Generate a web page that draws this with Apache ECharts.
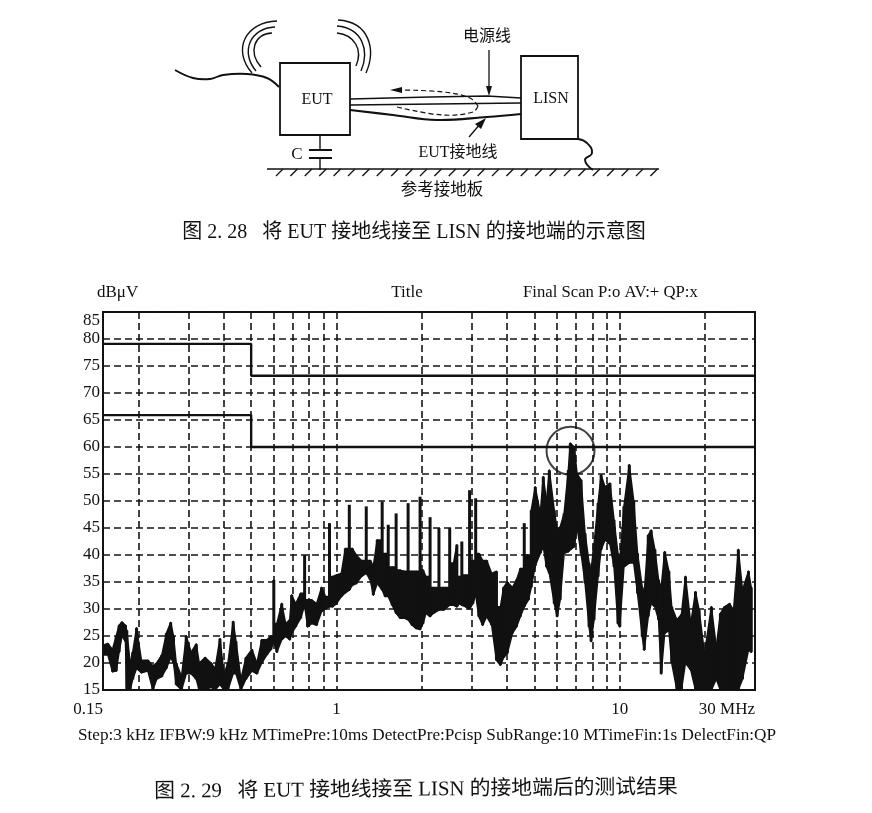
<!DOCTYPE html>
<html><head><meta charset="utf-8">
<style>html,body{margin:0;padding:0;background:#fff}#c{width:872px;height:813px}</style>
<script src="https://cdn.jsdelivr.net/npm/echarts@6/dist/echarts.min.js"></script>
</head><body><div id="c"></div>
<script>
// Values
const yMin = 15, yMax = 85, yStep = 5;
const xEnds = [0.15, 30];
const xLabelValues = [0.15, 1, 10, 30];
const xGridValues = [0.15,0.2,0.3,0.4,0.5,0.6,0.7,0.8,0.9,1,2,3,4,5,6,7,8,9,10,20,30];
const limitQP = [[0.15,79.1],[0.5,79.1],[0.5,73.2],[30,73.2]];
const limitAV = [[0.15,65.9],[0.5,65.9],[0.5,60],[30,60]];
const circled = [[6.7,59.3]];
const freqMHz = [.150,.156,.162,.167,.171,.175,.180,.182,.187,.191,.197,.205,.216,.225,.232,.242,.251,.260,.266,.272,.284,.295,.307,.320,.328,.344,.361,.373,.388,.401,.414,.432,.442,.460,.479,.503,.524,.545,.568,.587,.601,.616,.641,.662,.684,.695,.718,.748,.772,.791,.817,.851,.886,.915,.945,.968,1.0,1.04,1.075,1.11,1.138,1.175,1.224,1.274,1.316,1.349,1.393,1.45,1.486,1.523,1.573,1.624,1.678,1.733,1.79,1.849,1.91,1.973,2.02,2.07,2.14,2.2,2.3,2.39,2.51,2.59,2.66,2.72,2.77,2.86,2.95,3.03,3.1,3.18,3.28,3.39,3.53,3.67,3.79,3.89,4.01,4.18,4.32,4.46,4.6,4.76,4.87,5.03,5.24,5.37,5.51,5.64,5.87,6.01,6.16,6.36,6.58,6.69,6.9,7.07,7.3,7.54,7.79,7.92,8.11,8.38,8.59,8.87,9.23,9.54,9.85,10.0,10.34,10.8,11.2,11.55,12.0,12.2,12.6,12.9,13.3,13.7,14.0,14.4,14.9,15.25,15.9,16.5,17.05,17.8,18.5,19.05,19.9,21.05,21.9,22.65,23.4,24.4,25.2,26.2,27.1,28.45,29.1];
const upperDB = [23.3,23.6,22.5,25,27,27.6,27,26,20,22,26.5,20.5,20.5,19.5,20,21.5,25.5,27.5,25,20,17.5,25,22,23.5,20,21,20,19,24.5,18,20,27.7,24,17,21,22.5,20,24.3,24.3,25,35.4,27.3,31,27.3,28,32.6,31,32.9,40,31.7,31.7,31,34,32.3,45.9,36,36.3,36.6,41.2,49.3,41.2,40,39,49,39,38,42.8,49.9,40.3,45.6,37.8,47.7,37.2,37,49.6,37,37,50.8,37.2,36,47,34,45,34,45,38.5,41.9,36,42.5,36.3,52,39,50.5,40.3,39,39,36.6,37,30.4,34,35,34,35.4,37.5,45.9,40,48.3,52.6,47.7,54.5,50,55.7,48.3,44.6,45.2,47.7,55.7,60.7,60,55,53.9,44,38.5,37.2,42,49.6,54.8,52.6,53.3,46.5,40.3,39,49,56.7,50,40.3,34,32.9,43.7,44.6,41,35.4,34,40.6,37,30.4,28,29,36,27.3,33.2,29.8,21.8,30.4,23,29.2,30.4,31,29.8,41,33.5,37,34];
const lowerDB = [21.5,21.5,18.4,18.5,22,25,24,15,15,17,19,18.2,18.5,15,17,17.5,19,21,20,16,15,18,18,17,15,15,15.5,15,16,15,15,18,18,15,17,18.5,18,20,21.5,22.5,24,22,24.3,24.9,24.3,25.5,26.7,28.3,30.7,26.7,27.3,27,29.5,30,30.4,30.4,31,32.3,33,33.5,34.4,34.7,36,36.6,35.4,32.6,34.7,33.5,32.3,32.3,30.7,29.2,28.3,28.3,28,27,26.4,26.2,27.3,29.2,28.6,29.2,29.8,29.8,30.7,30.7,30.4,31,30.7,30.4,30,31,32.6,28.6,27,28.6,27,20.5,19.6,21,21.8,25.5,26.7,28.6,30.4,31.7,34,38,40.3,41.5,37.8,36.6,31,28.6,31.7,40.3,40.6,41,41.5,45,40.3,34.8,26.7,24,28,36,41,42.8,42,37.8,27.3,26.7,37.8,38.5,38.5,32.9,24.9,22.4,28.6,31,30.4,28,18,25.5,26,20,15,15,20,18.7,15,15,15,15,17,15,15,15,15,15,17,22.4,22];

const serif = '"Liberation Serif","Noto Sans CJK SC",serif';
const ink = '#111';
const T = (x,y,text,size,o={}) => ({type:'text',x,y,rotation:o.rot||0,silent:true,z:20,
  style:{text,fill:ink,font:(o.w||'normal')+' '+size+'px '+serif,textAlign:o.a||'center',textVerticalAlign:'middle'}});
const L = (pts,w=1.3,o={}) => ({type:'polyline',silent:true,z:20,shape:{points:pts,smooth:o.smooth||0},
  style:{stroke:ink,lineWidth:w,fill:null,lineDash:o.dash||null}});
const B = (a,c1,c2,b,w=1.4) => ({type:'bezierCurve',silent:true,z:20,
  shape:{x1:a[0],y1:a[1],cpx1:c1[0],cpy1:c1[1],cpx2:c2[0],cpy2:c2[1],x2:b[0],y2:b[1]},style:{stroke:ink,lineWidth:w,fill:null}});
const P = (pts) => ({type:'polygon',silent:true,z:20,shape:{points:pts},style:{fill:ink}});

const hatch = [];
for (let i=0;i<27;i++){ const x=276+i*14.4; hatch.push(L([[x,176],[x+7,169]],1.3)); }

const diagram = [
  {type:'rect',silent:true,z:20,shape:{x:280,y:63,width:70,height:72},style:{fill:'#fff',stroke:ink,lineWidth:1.8}},
  {type:'rect',silent:true,z:20,shape:{x:521,y:56,width:57,height:83},style:{fill:'#fff',stroke:ink,lineWidth:1.8}},
  L([[175,70],[193,78],[210,79],[223,75],[247,74],[267,78],[279,87]],1.9,{smooth:0.4}),
  B([277,21],[245,22],[232,50],[252,73]),B([275,27],[250,28],[240,52],[256,71]),B([272,33],[254,34],[248,52],[261,67]),
  B([338,20],[370,22],[376,50],[366,73]),B([337,26],[362,28],[370,50],[361,71]),B([337,33],[355,35],[363,50],[356,66]),
  L([[350,99],[430,97],[487,96],[521,98]],1.4),
  L([[350,105],[521,103]],1.4),
  L([[350,110],[393,115],[437,120],[487,117],[521,114]],2.1,{smooth:0.4}),
  L([[478,106],[470,98],[443,92],[397,90]],1.2,{dash:[5,3],smooth:0.4}),
  P([[390,90],[402,87],[402,93]]),
  L([[478,106],[473,112],[443,115],[397,107]],1.2,{dash:[5,3],smooth:0.4}),
  L([[489,50],[489,90]],1.3),P([[489,96],[486,86],[492,86]]),
  L([[469,137],[481,123]],1.3),P([[486,118],[475,124],[481,129]]),
  L([[320,135],[320,150]],1.4),L([[309,150],[332,150]],2),L([[309,158],[332,158]],2),L([[320,158],[320,170]],1.4),
  L([[267,169],[659,169]],1.5),
  L([[578,139],[587,143],[592,153],[585,160],[593,170]],1.9,{smooth:0.5}),
  ...hatch,
  T(317,100,'EUT',16),T(551,99,'LISN',16),T(487,37,'电源线',16),T(297,155,'C',17),
  T(458,153,'EUT接地线',16),T(442,191,'参考接地板',16.5),
  T(414,233,'图 2. 28   将 EUT 接地线接至 LISN 的接地端的示意图',20),
  T(97,293,'dBμV',17,{a:'left'}),T(407,293,'Title',17),T(523,293,'Final Scan P:o AV:+ QP:x',16.7,{a:'left'}),
  T(427,735,'Step:3 kHz IFBW:9 kHz MTimePre:10ms DetectPre:Pcisp SubRange:10 MTimeFin:1s DelectFin:QP',17.2),
  T(416,790,'图 2. 29   将 EUT 接地线接至 LISN 的接地端后的测试结果',20.8,{rot:0.008}),
];

const chart = echarts.init(document.getElementById('c'),null,{renderer:'canvas'});
const dash = {color:'#151515',width:1.6,type:[7,4]};
const limitLine = (name,data)=>({name,type:'line',data,showSymbol:false,symbol:'none',animation:false,z:5,
  lineStyle:{color:ink,width:2.4}});
chart.setOption({
  animation:false,backgroundColor:'#fff',
  grid:{left:103,top:312,width:652,height:378,show:true,borderColor:ink,borderWidth:2,backgroundColor:'transparent'},
  xAxis:{type:'log',logBase:10,min:xEnds[0],max:xEnds[1],
    axisLine:{show:false},axisTick:{show:false,customValues:xGridValues},
    splitLine:{show:true,lineStyle:dash},minorSplitLine:{show:false},
    axisLabel:{customValues:xLabelValues,margin:11,color:ink,fontFamily:serif,fontSize:17,alignMinLabel:'right',alignMaxLabel:'right',
      formatter:v=>Math.abs(v-30)<1e-6?'30 MHz':String(+(+v).toFixed(2))}},
  yAxis:{type:'value',min:yMin,max:yMax,interval:yStep,axisLine:{show:false},axisTick:{show:false},
    splitLine:{show:true,lineStyle:dash},
    axisLabel:{margin:3,color:ink,fontFamily:serif,fontSize:17,verticalAlignMaxLabel:'top'}},
  series:[
    {name:'Scan',type:'custom',coordinateSystem:'cartesian2d',clip:true,z:4,
     encode:{x:0,y:[1,2]},
     data:freqMHz.map((f,i)=>[f,upperDB[i],lowerDB[i]]),
     renderItem:(params,api)=>{
       const i=params.dataIndex, j=Math.min(i+1,freqMHz.length-1);
       const comb = freqMHz[i]>=0.58 && freqMHz[i]<5 && Math.abs(upperDB[i]-upperDB[j])>5;
       const top = Math.min(upperDB[i],upperDB[j]);
       const a=api.coord([freqMHz[i],comb?top:upperDB[i]]),b=api.coord([freqMHz[j],comb?top:upperDB[j]]),
             c=api.coord([freqMHz[j],lowerDB[j]]),d=api.coord([freqMHz[i],lowerDB[i]]),
             h=api.coord([freqMHz[i],upperDB[i]]);
       const s={fill:ink,stroke:ink,lineWidth:1.5,lineJoin:'round'};
       return {type:'group',children:[
         {type:'polygon',shape:{points:[a,b,c,d]},style:s},
         {type:'line',shape:{x1:h[0],y1:h[1],x2:d[0],y2:d[1]},style:{stroke:ink,lineWidth:3}}
       ]};
     }},
    limitLine('QP limit',limitQP),
    limitLine('AV limit',limitAV),
    {name:'Marked peak',type:'scatter',data:circled,symbol:'circle',symbolSize:48,z:6,
     itemStyle:{color:'transparent',borderColor:ink,borderWidth:2}}
  ],
  graphic:diagram
});
</script></body></html>
